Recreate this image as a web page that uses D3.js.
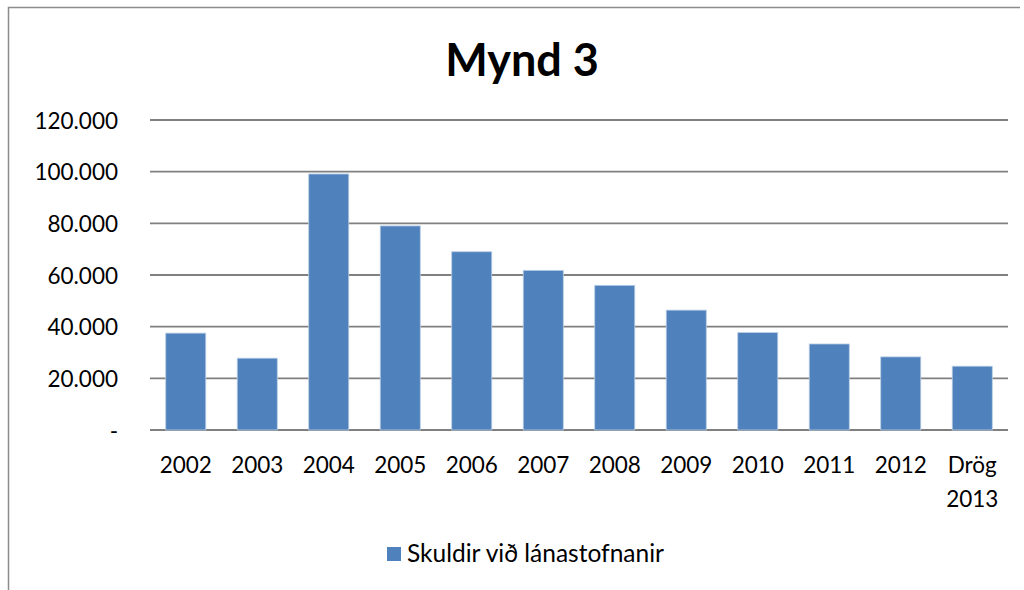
<!DOCTYPE html>
<html>
<head>
<meta charset="UTF-8">
<title>Mynd 3</title>
<script src="https://d3js.org/d3.v7.min.js"></script>
<style>
  body { margin: 0; background: #fff; }
  text { font-family: Lato, "Open Sans", sans-serif; fill: #000; }
</style>
</head>
<body>
<script>
// gögn lesin af myndinni
var years = ["2002", "2003", "2004", "2005", "2006", "2007", "2008", "2009", "2010", "2011", "2012", "Drög 2013"]
var skuldir = [37500, 27800, 99100, 79000, 69000, 61800, 56000, 46400, 37700, 33300, 28300, 24700]
var yTicks = [0, 20000, 40000, 60000, 80000, 100000, 120000]
var seriesName = "Skuldir við lánastofnanir"
var title = "Mynd 3"

var width = 1024
var height = 590
var plot = { left: 150, right: 1008, top: 120, bottom: 430 }

var svg = d3.select("body").append("svg")
    .attr("width", width)
    .attr("height", height)

// ramminn um myndina
svg.append("path")
    .attr("d", "M8.5,590 V7.5 H1020")
    .attr("fill", "none")
    .attr("stroke", "#8c8c8c")
    .attr("stroke-width", 1.5)

var x = d3.scaleBand()
    .domain(years)
    .range([plot.left, plot.right])
    .paddingInner(0.44)
    .paddingOuter(0.22)

var y = d3.scaleLinear()
    .domain([0, 120000])
    .range([plot.bottom, plot.top])

// láréttar línur
svg.append("g")
    .selectAll("line")
    .data(yTicks)
    .enter().append("line")
    .attr("x1", plot.left)
    .attr("x2", plot.right)
    .attr("y1", function(d) { return y(d) })
    .attr("y2", function(d) { return y(d) })
    .attr("stroke", "#808080")
    .attr("stroke-width", 1.8)

// y-ás merki
var fmt = function(d) {
    if (d === 0) return "-"
    return d3.format(",")(d).replace(/,/g, ".")
}
var yAxis = svg.append("g")
    .attr("transform", "translate(" + (plot.left - 32) + ",0)")
    .call(d3.axisLeft(y).tickValues(yTicks).tickFormat(fmt).tickSize(0).tickPadding(0))
yAxis.select(".domain").remove()
yAxis.selectAll("text")
    .attr("font-size", "22.5px")
    .attr("dy", "0.36em")
    .style("font-family", "Lato, 'Open Sans', sans-serif")
    .style("fill", "#000")

// súlur
svg.append("g")
    .selectAll("rect")
    .data(skuldir)
    .enter().append("rect")
    .attr("x", function(d, i) { return x(years[i]) })
    .attr("y", function(d) { return y(d) })
    .attr("width", x.bandwidth())
    .attr("height", function(d) { return y(0) - y(d) })
    .attr("fill", "#4f81bd")
    .attr("stroke", "#b9cde5")
    .attr("stroke-width", 0.8)

// x-ás merki
var xLabels = svg.append("g")
    .selectAll("text")
    .data(years)
    .enter().append("text")
    .attr("text-anchor", "middle")
    .attr("font-size", "22.5px")
    .attr("x", function(d) { return x(d) + x.bandwidth() / 2 })
    .attr("y", 473)
xLabels.each(function(d) {
    var parts = d.split(" ")
    var t = d3.select(this)
    parts.forEach(function(p, j) {
        t.append("tspan")
            .attr("x", x(d) + x.bandwidth() / 2)
            .attr("dy", j === 0 ? 0 : "1.5em")
            .text(p)
    })
})

// titill
svg.append("text")
    .attr("x", 522)
    .attr("y", 76)
    .attr("text-anchor", "middle")
    .attr("font-size", "45px")
    .attr("font-weight", "bold")
    .text(title)

// skýring
svg.append("rect")
    .attr("x", 387)
    .attr("y", 547)
    .attr("width", 14)
    .attr("height", 14)
    .attr("fill", "#4f81bd")
svg.append("text")
    .attr("x", 407)
    .attr("y", 562)
    .attr("font-size", "24.5px")
    .text(seriesName)
</script>
</body>
</html>
